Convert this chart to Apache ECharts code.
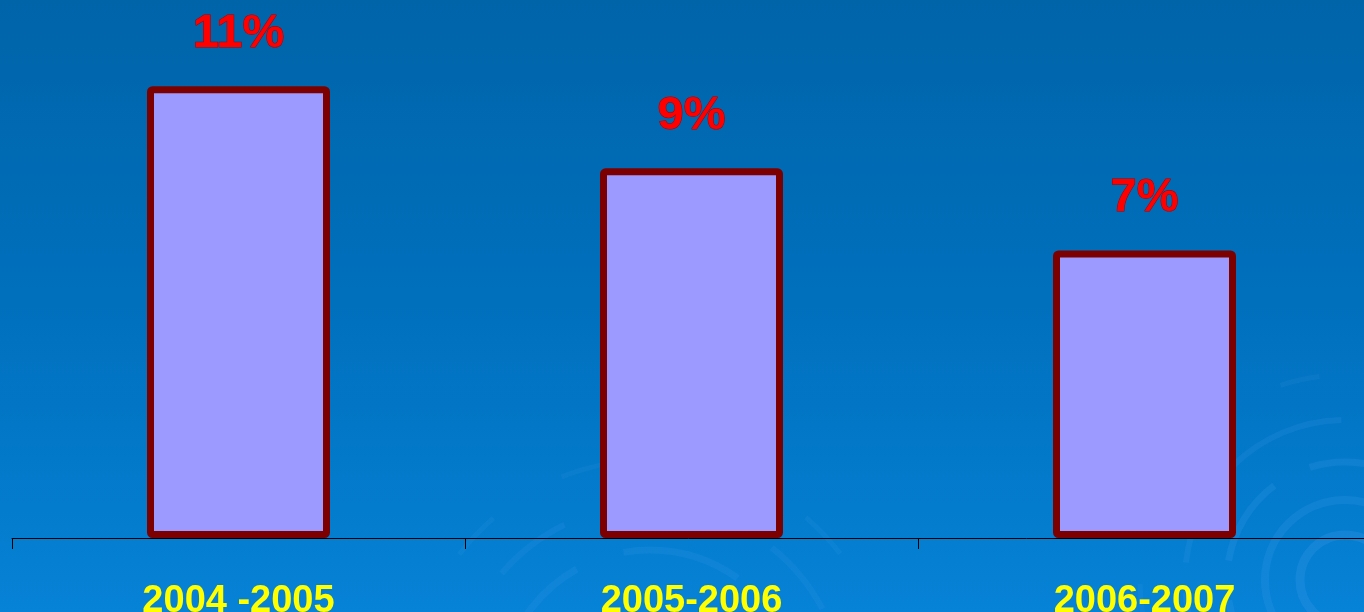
<!DOCTYPE html>
<html>
<head>
<meta charset="utf-8">
<script src="https://cdn.jsdelivr.net/npm/echarts@6/dist/echarts.min.js"></script>
<style>
  html, body { margin: 0; padding: 0; }
  #chart { width: 1364px; height: 612px; }
</style>
</head>
<body>
<div id="chart"></div>
<script>
const categories = ["2004 -2005", "2005-2006", "2006-2007"];
const values = [11, 9, 7];

const chart = echarts.init(document.getElementById("chart"));

// faint swirl arcs from the slide background
function ring(cx, cy, r, w, alpha, dash) {
  return {
    type: "circle",
    z: -10,
    silent: true,
    shape: { cx: cx, cy: cy, r: r },
    style: {
      fill: "none",
      stroke: "rgba(110,180,255," + alpha + ")",
      lineWidth: w,
      lineDash: dash || null
    }
  };
}
const swirls = [
  ring(1345, 580, 45, 9, 0.14),
  ring(1345, 580, 80, 8, 0.12),
  ring(1345, 580, 118, 7, 0.12, [90, 40]),
  ring(1345, 580, 160, 6, 0.10, [60, 50, 120, 30]),
  ring(1345, 580, 205, 5, 0.08, [40, 60]),
  ring(650, 700, 150, 7, 0.10, [120, 50]),
  ring(650, 700, 195, 6, 0.09, [80, 70]),
  ring(650, 700, 240, 5, 0.07, [50, 80])
];

chart.setOption({
  backgroundColor: {
    type: "linear", x: 0, y: 0, x2: 0, y2: 1,
    colorStops: [
      { offset: 0, color: "#0064a9" },
      { offset: 0.5, color: "#0070bd" },
      { offset: 1, color: "#0682d6" }
    ]
  },
  animation: false,
  graphic: swirls,
  grid: {
    left: 12, right: -7, top: 4, bottom: 74,
    containLabel: false,
    outerBoundsMode: "none"
  },
  xAxis: {
    type: "category",
    data: categories,
    axisLine: { lineStyle: { color: "#000", width: 1 } },
    axisTick: { show: true, length: 11, lineStyle: { color: "#000" } },
    axisLabel: {
      color: "#ffff00",
      fontFamily: "Liberation Sans",
      fontWeight: "bold",
      fontSize: 38,
      margin: 45
    }
  },
  yAxis: {
    type: "value",
    min: 0,
    max: 13,
    show: false,
    splitLine: { show: false }
  },
  series: [
    {
      type: "bar",
      data: values,
      barWidth: 183,
      itemStyle: {
        color: "#9c99ff",
        borderColor: "#7d0000",
        borderWidth: 7,
        borderRadius: 2
      },
      label: {
        show: true,
        position: "top",
        distance: 29,
        formatter: "{c}%",
        color: "#ff0000",
        fontFamily: "Liberation Sans",
        fontWeight: "bold",
        fontSize: 47,
        textBorderColor: "#a00000",
        textBorderWidth: 1
      }
    }
  ]
});
</script>
</body>
</html>
